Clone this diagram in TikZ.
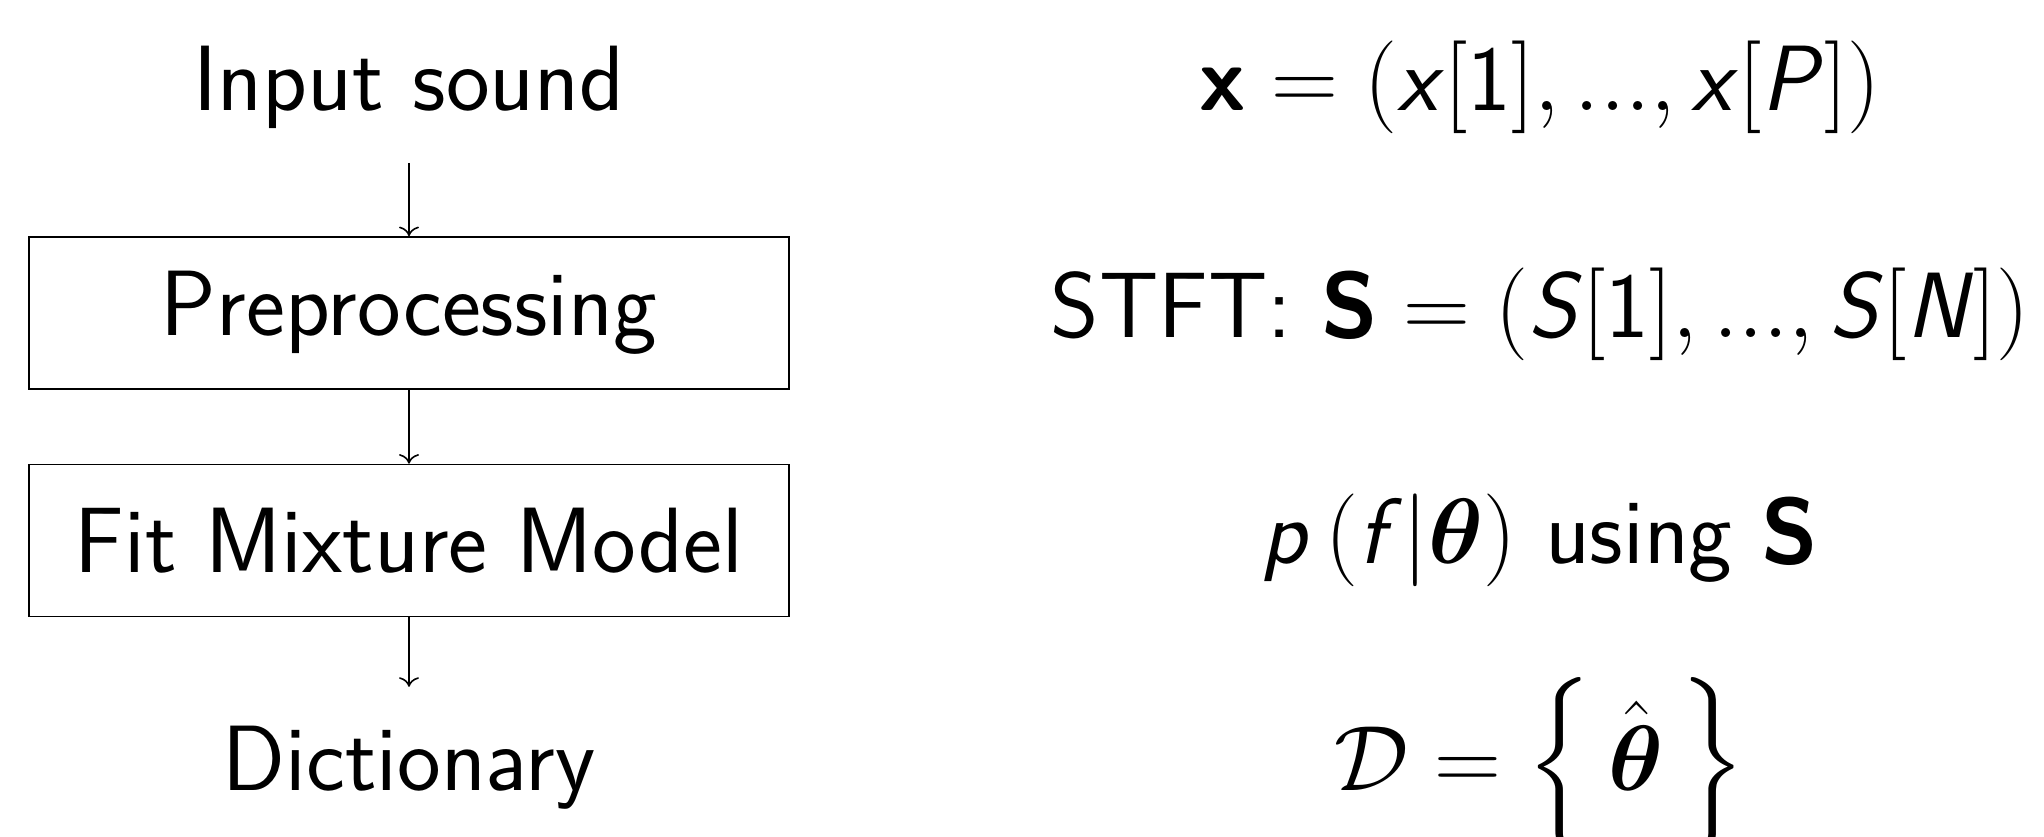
\RequirePackage{fix-cm}
\documentclass[tikz,border=0pt]{standalone}
\usepackage{amsmath}
\usetikzlibrary{arrows.meta}
\renewcommand{\familydefault}{\sfdefault}
\newcommand{\sfit}[1]{\textsf{\itshape #1\/}}
\newcommand{\sfbf}[1]{\textsf{\bfseries #1}}
\newcommand{\sfup}[1]{\textsf{\upshape #1}}
\tikzset{
  stepbox/.style={draw, line width=0.4pt, minimum width=190pt, minimum height=38pt, inner sep=0pt},
  lbl/.style={anchor=base, inner sep=0pt},
  flow/.style={-{To[length=2.4pt,width=5pt]}, line width=0.4pt}
}
\begin{document}
\begin{tikzpicture}[x=0.25pt, y=-0.25pt, every node/.style={font=\fontsize{23.2}{28}\selectfont\sffamily}]
\useasboundingbox (0,0) rectangle (2044,836);
\node[lbl] (input) at (409,110) {Input sound};
\node[stepbox] (pre) at (409,313) {Preprocessing};
\node[stepbox] (fit) at (409,540.5) {Fit Mixture Model};
\node[lbl] (dict) at (409,790) {Dictionary};
\draw[flow, shorten <=8.5pt] (input.south) -- (pre.north);
\draw[flow] (pre.south) -- (fit.north);
\draw[flow, shorten >=9.5pt] (fit.south) -- (dict.north);
\node[lbl] (sig) at (1540,110) {$\sfbf{x} = (\sfit{x}[\sfup{1}], ..., \sfit{x}[\sfit{P}])$};
\node[lbl] (stft) at (1540,337) {STFT: $\sfbf{S} = (\sfit{S}[\sfup{1}], ..., \sfit{S}[\sfit{N}])$};
\node[lbl] (model) at (1540,563) {$\sfit{p}\left(\sfit{f}\middle|\boldsymbol{\theta}\right)$ using $\sfbf{S}$};
\node[lbl] (dicteq) at (1540,790) {$\mathcal{D} = \Big\{\,\hat{\boldsymbol{\theta}}\,\Big\}$};
\end{tikzpicture}
\end{document}
